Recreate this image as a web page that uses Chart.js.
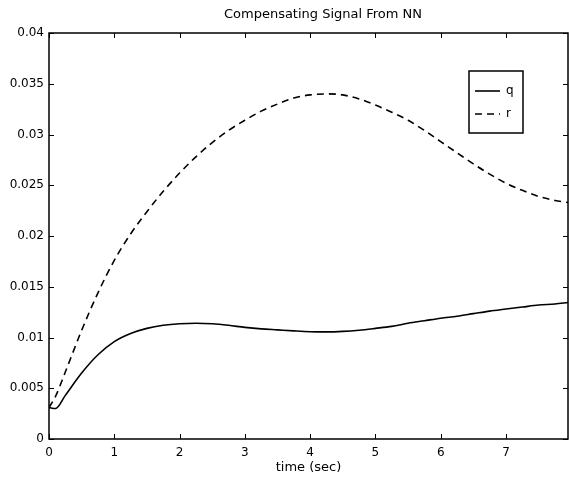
<!DOCTYPE html>
<html>
<head>
<meta charset="utf-8">
<script src="https://cdn.jsdelivr.net/npm/chart.js@4/dist/chart.umd.min.js"></script>
<style>
  body { margin: 0; background: #fff; }
  canvas { display: block; }
</style>
</head>
<body>
<canvas id="chart" width="569" height="477"></canvas>
<script>
// values
const timeSec = [0, 0.1, 0.25, 0.5, 0.75, 1.0, 1.25, 1.5, 1.75, 2.0, 2.25, 2.5, 2.75, 3.0, 3.25, 3.5, 3.75, 4.0, 4.25, 4.5, 4.75, 5.0, 5.25, 5.5, 5.75, 6.0, 6.25, 6.5, 6.75, 7.0, 7.25, 7.5, 7.75, 7.95];
const qSignal = [0.0031, 0.0030, 0.0043, 0.0065, 0.0083, 0.0096, 0.0104, 0.0109, 0.0112, 0.01135, 0.0114, 0.01135, 0.0112, 0.0110, 0.01085, 0.01075, 0.01065, 0.01057, 0.01055, 0.0106, 0.01072, 0.0109, 0.0111, 0.0114, 0.01165, 0.0119, 0.0121, 0.01235, 0.0126, 0.0128, 0.0130, 0.0132, 0.0133, 0.01345];
const rSignal = [0.0031, 0.0042, 0.0066, 0.0107, 0.0144, 0.0176, 0.0202, 0.0224, 0.0244, 0.0262, 0.0278, 0.0292, 0.0304, 0.0314, 0.0323, 0.0330, 0.0336, 0.0339, 0.0340, 0.0339, 0.0335, 0.0329, 0.0322, 0.0314, 0.0304, 0.0293, 0.0282, 0.0271, 0.0261, 0.0252, 0.0245, 0.0239, 0.0235, 0.0233];
const seriesNames = ['q', 'r'];
const xTicks = [0, 1, 2, 3, 4, 5, 6, 7];
const yTicks = [0, 0.005, 0.01, 0.015, 0.02, 0.025, 0.03, 0.035, 0.04];

const FONT = 'DejaVu Sans';

const toPoints = (ys) => timeSec.map((t, i) => ({ x: t, y: ys[i] }));

// box round the plot, inward tick marks, title and legend like matlab
const matlabFrame = {
  id: 'matlabFrame',
  afterDraw(chart) {
    const ctx = chart.ctx;
    const a = chart.chartArea;
    const xs = chart.scales.x, ys = chart.scales.y;
    ctx.save();
    ctx.strokeStyle = '#000';
    ctx.lineWidth = 1.5;
    ctx.strokeRect(a.left, a.top, a.right - a.left, a.bottom - a.top);

    ctx.lineWidth = 1;
    ctx.beginPath();
    xTicks.forEach(v => {
      const px = Math.round(xs.getPixelForValue(v)) + 0.5;
      ctx.moveTo(px, a.bottom); ctx.lineTo(px, a.bottom - 5);
      ctx.moveTo(px, a.top); ctx.lineTo(px, a.top + 5);
    });
    yTicks.forEach(v => {
      const py = Math.round(ys.getPixelForValue(v)) + 0.5;
      ctx.moveTo(a.left, py); ctx.lineTo(a.left + 5, py);
      ctx.moveTo(a.right, py); ctx.lineTo(a.right - 5, py);
    });
    ctx.stroke();

    // title
    ctx.fillStyle = '#000';
    ctx.font = '13px "' + FONT + '"';
    ctx.textAlign = 'center';
    ctx.textBaseline = 'middle';
    ctx.fillText('Compensating Signal From NN', 323, 15);

    // legend box
    const lx = 469, ly = 71, lw = 54, lh = 62;
    ctx.fillStyle = '#fff';
    ctx.fillRect(lx, ly, lw, lh);
    ctx.lineWidth = 1.5;
    ctx.strokeRect(lx, ly, lw, lh);
    chart.data.datasets.forEach((ds, i) => {
      const y = ly + 20 + i * 23;
      ctx.beginPath();
      ctx.setLineDash(ds.borderDash || []);
      ctx.lineWidth = ds.borderWidth;
      ctx.moveTo(lx + 6, y);
      ctx.lineTo(lx + 31, y);
      ctx.stroke();
      ctx.setLineDash([]);
      ctx.fillStyle = '#000';
      ctx.font = '12px "' + FONT + '"';
      ctx.textAlign = 'left';
      ctx.fillText(ds.label, lx + 37, y);
    });
    ctx.restore();
  }
};

new Chart(document.getElementById('chart'), {
  type: 'line',
  data: {
    datasets: [
      {
        label: seriesNames[0],
        data: toPoints(qSignal),
        borderColor: '#000',
        borderWidth: 1.6,
        pointRadius: 0,
        cubicInterpolationMode: 'monotone',
        fill: false
      },
      {
        label: seriesNames[1],
        data: toPoints(rSignal),
        borderColor: '#000',
        borderWidth: 1.6,
        borderDash: [7, 5],
        pointRadius: 0,
        cubicInterpolationMode: 'monotone',
        fill: false
      }
    ]
  },
  options: {
    responsive: false,
    animation: false,
    layout: { padding: { top: 33, right: 1, left: 0, bottom: 0 } },
    plugins: {
      legend: { display: false },
      title: { display: false },
      tooltip: { enabled: false }
    },
    scales: {
      x: {
        type: 'linear',
        min: 0,
        max: 7.95,
        grid: { display: false, drawTicks: false },
        border: { display: false },
        ticks: {
          stepSize: 1,
          includeBounds: false,
          padding: 7,
          color: '#000',
          font: { family: FONT, size: 12 },
          maxRotation: 0
        },
        title: {
          display: true,
          text: 'time (sec)',
          color: '#000',
          font: { family: FONT, size: 13 },
          padding: { top: 0, bottom: 2 }
        },
        afterFit(scale) { scale.height = 38; }
      },
      y: {
        min: 0,
        max: 0.04,
        grid: { display: false, drawTicks: false },
        border: { display: false },
        ticks: {
          stepSize: 0.005,
          padding: 5,
          color: '#000',
          font: { family: FONT, size: 12 },
          callback: (v) => String(+v.toFixed(3))
        },
        afterFit(scale) { scale.width = 49; }
      }
    }
  },
  plugins: [matlabFrame]
});
</script>
</body>
</html>
